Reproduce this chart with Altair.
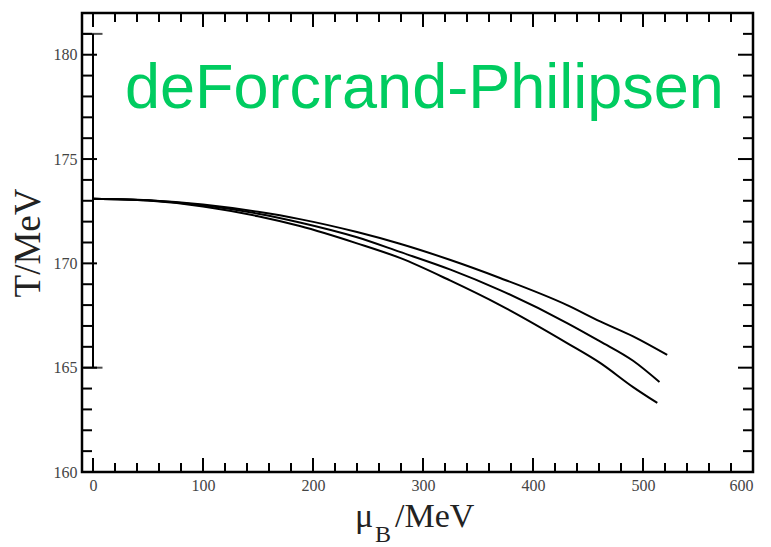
import altair as alt
import pandas as pd

# ---- data ----
mu_top = [0, 50, 100, 150, 188, 240, 279, 325, 370, 431, 461, 491, 522]
T_top = [173.1, 173.03, 172.82, 172.47, 172.12, 171.5, 170.94, 170.16, 169.3, 168.0, 167.22, 166.5, 165.61]
mu_mid = [0, 50, 100, 150, 188, 240, 279, 325, 370, 431, 461, 491, 515]
T_mid = [173.1, 173.02, 172.78, 172.38, 171.96, 171.25, 170.55, 169.7, 168.72, 167.14, 166.26, 165.33, 164.31]
mu_bot = [0, 50, 100, 150, 188, 240, 279, 325, 370, 431, 461, 491, 513]
T_bot = [173.1, 173.01, 172.73, 172.26, 171.79, 170.96, 170.26, 169.17, 168.0, 166.18, 165.23, 164.07, 163.31]

err_mu = [0]
err_low = [165]
err_high = [181]

x_major = [0, 100, 200, 300, 400, 500, 600]
x_minor = [v for v in range(20, 600, 20) if v % 100 != 0]
y_major = [160, 165, 170, 175, 180]
y_minor = [v for v in range(161, 182) if v % 5 != 0]

annotation = ["deForcrand-Philipsen"]
y_title = ["T/MeV"]
x_title_parts = ["μ", "B", "/MeV"]

W, H = 671, 459
X_DOMAIN = [-10, 600]
Y_DOMAIN = [160, 182]

xs = alt.Scale(domain=X_DOMAIN, nice=False, zero=False)
ys = alt.Scale(domain=Y_DOMAIN, nice=False, zero=False)

rows = []
for name, mus, ts in [("a", mu_top, T_top), ("b", mu_mid, T_mid), ("c", mu_bot, T_bot)]:
    for m, t in zip(mus, ts):
        rows.append({"series": name, "mu": m, "T": t})
curves_df = pd.DataFrame(rows)

lines = alt.Chart(curves_df).mark_line(color="black", strokeWidth=2, interpolate="monotone").encode(
    x=alt.X("mu:Q", scale=xs, title=None, axis=alt.Axis(values=x_major)),
    y=alt.Y("T:Q", scale=ys, title=None, axis=alt.Axis(values=y_major)),
    detail="series:N",
)

err_df = pd.DataFrame({"mu": err_mu, "lo": err_low, "hi": err_high})
err_rule = alt.Chart(err_df).mark_rule(color="black", strokeWidth=2).encode(
    x=alt.X("mu:Q", scale=xs, title=None),
    y=alt.Y("lo:Q", scale=ys, title=None),
    y2="hi:Q",
)
cap_lo = alt.Chart(err_df).mark_tick(color="black", orient="horizontal", size=19, thickness=2).encode(
    x=alt.X("mu:Q", scale=xs, title=None),
    y=alt.Y("lo:Q", scale=ys, title=None),
)
cap_hi = alt.Chart(err_df).mark_tick(color="black", orient="horizontal", size=19, thickness=2).encode(
    x=alt.X("mu:Q", scale=xs, title=None),
    y=alt.Y("hi:Q", scale=ys, title=None),
)

def xticks(vals, length):
    df = pd.DataFrame({"v": vals})
    bottom = alt.Chart(df).mark_rule(color="black", strokeWidth=2).encode(
        x=alt.X("v:Q", scale=xs, title=None), y=alt.value(H), y2=alt.value(H - length))
    top = alt.Chart(df).mark_rule(color="black", strokeWidth=2).encode(
        x=alt.X("v:Q", scale=xs, title=None), y=alt.value(0), y2=alt.value(length))
    return [bottom, top]

def yticks(vals, length):
    df = pd.DataFrame({"v": vals})
    left = alt.Chart(df).mark_rule(color="black", strokeWidth=2).encode(
        y=alt.Y("v:Q", scale=ys, title=None), x=alt.value(0), x2=alt.value(length))
    right = alt.Chart(df).mark_rule(color="black", strokeWidth=2).encode(
        y=alt.Y("v:Q", scale=ys, title=None), x=alt.value(W), x2=alt.value(W - length))
    return [left, right]

tick_layers = xticks(x_major, 14) + xticks(x_minor, 9) + yticks(y_major, 15) + yticks(y_minor, 10)

ann = alt.Chart(pd.DataFrame({"t": annotation})).mark_text(
    font="Liberation Sans", fontSize=63, color="#00CC60", align="left", baseline="alphabetic"
).encode(text="t:N", x=alt.value(43), y=alt.value(95))

ytl = alt.Chart(pd.DataFrame({"t": y_title})).mark_text(
    font="Liberation Serif", fontSize=37, color="#222", align="center", baseline="middle", angle=270
).encode(text="t:N", x=alt.value(-53), y=alt.value(230))

xt_mu = alt.Chart(pd.DataFrame({"t": [x_title_parts[0]]})).mark_text(
    font="Liberation Serif", fontSize=34, color="#222", align="left", baseline="alphabetic"
).encode(text="t:N", x=alt.value(273), y=alt.value(514))
xt_b = alt.Chart(pd.DataFrame({"t": [x_title_parts[1]]})).mark_text(
    font="Liberation Serif", fontSize=24, color="#222", align="left", baseline="alphabetic"
).encode(text="t:N", x=alt.value(293), y=alt.value(529))
xt_rest = alt.Chart(pd.DataFrame({"t": [x_title_parts[2]]})).mark_text(
    font="Liberation Serif", fontSize=34, color="#222", align="left", baseline="alphabetic"
).encode(text="t:N", x=alt.value(313), y=alt.value(514))

chart = alt.layer(
    lines, err_rule, cap_lo, cap_hi, *tick_layers, ann, ytl, xt_mu, xt_b, xt_rest
).properties(
    width=W, height=H,
    autosize=alt.AutoSizeParams(type="none"),
    padding={"left": 82, "top": 13, "right": 18, "bottom": 75},
    background="white",
).configure_view(
    stroke="black", strokeWidth=2.5
).configure_axis(
    ticks=False, domain=False, grid=False,
    labelFont="Liberation Serif", labelFontSize=16, labelColor="#444", labelPadding=5,
)

chart.save("out.html", embed_options={"renderer": "svg", "actions": False})
